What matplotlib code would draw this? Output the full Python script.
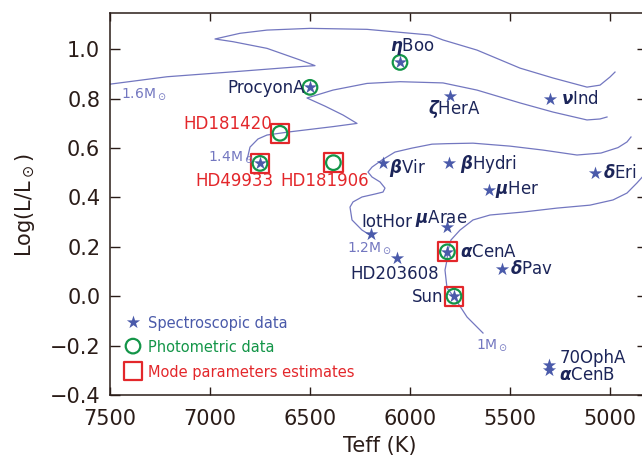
import numpy as np
import matplotlib
matplotlib.use('Agg')
import matplotlib.pyplot as plt

plt.rcParams['font.family'] = ['DejaVu Sans']
plt.rcParams['mathtext.fontset'] = 'custom'
plt.rcParams['mathtext.rm'] = 'DejaVu Sans'
plt.rcParams['mathtext.it'] = 'DejaVu Sans:italic:bold'
plt.rcParams['mathtext.bf'] = 'DejaVu Sans:bold'

# evolutionary tracks: Teff (K), log(L/Lsun)
track16_teff = [7500, 7215, 6885, 6550, 6475, 6550, 6715, 6885, 6975, 6850, 6715, 6500,
                6215, 5900, 5835, 5665, 5450, 5285, 5115, 5050, 5000, 4975]
track16_logl = [0.859, 0.889, 0.909, 0.930, 0.934, 0.957, 1.004, 1.031, 1.042, 1.065, 1.078, 1.085,
                1.081, 1.058, 1.038, 0.997, 0.924, 0.884, 0.847, 0.855, 0.888, 0.908]

track14_teff = [6815, 6800, 6760, 6715, 6600, 6385, 6265, 6335, 6425, 6515, 6385, 6215,
                6050, 5835, 5665, 5450, 5285, 5115, 5050, 5015]
track14_logl = [0.552, 0.604, 0.637, 0.653, 0.666, 0.687, 0.700, 0.734, 0.770, 0.803, 0.835, 0.862,
                0.869, 0.864, 0.835, 0.783, 0.746, 0.714, 0.718, 0.726]

track12_teff = [6200, 6240, 6290, 6300, 6285, 6240, 6175, 6135, 6125, 6150, 6190, 6210, 6190,
                6140, 6075, 5990, 5890, 5815, 5685, 5500, 5335, 5165, 5045, 4960, 4915, 4895]
track12_logl = [0.248, 0.268, 0.309, 0.361, 0.382, 0.402, 0.414, 0.422, 0.438, 0.463, 0.483, 0.503, 0.523,
                0.552, 0.584, 0.600, 0.616, 0.618, 0.620, 0.608, 0.592, 0.572, 0.580, 0.602, 0.625, 0.645]

track10_teff = [5635, 5715, 5780, 5815, 5825, 5815, 5810, 5795, 5750, 5685, 5600, 5435,
                5265, 5100, 4985, 4915, 4865, 4825]
track10_logl = [-0.149, -0.084, -0.003, 0.033, 0.106, 0.147, 0.187, 0.228, 0.268, 0.309, 0.329, 0.341,
                0.357, 0.369, 0.390, 0.418, 0.459, 0.495]

track_labels = ['1.6M$_\\odot$', '1.4M$_\\odot$', '1.2M$_\\odot$', '1M$_\\odot$']
track_label_teff = [7445, 7010, 6315, 5672]
track_label_logl = [0.806, 0.549, 0.180, -0.211]

# spectroscopic targets
spec_names = ['etaBoo', 'ProcyonA', 'HD49933', 'zetaHerA', 'nuInd', 'betaVir', 'betaHydri', 'deltaEri',
              'muHer', 'muArae', 'IotHor', 'HD203608', 'alphaCenA', 'deltaPav', 'Sun', '70OphA', 'alphaCenB']
spec_teff = [6050, 6500, 6750, 5800, 5300, 6133, 5803, 5075, 5603, 5817, 6195, 6067, 5813, 5542, 5780, 5305, 5305]
spec_logl = [0.947, 0.846, 0.538, 0.811, 0.797, 0.541, 0.541, 0.500, 0.430, 0.279, 0.252, 0.153, 0.180,
             0.110, 0.000, -0.278, -0.298]

# photometric targets
phot_names = ['etaBoo', 'ProcyonA', 'HD181420', 'HD49933', 'HD181906', 'alphaCenA', 'Sun']
phot_teff = [6050, 6500, 6650, 6750, 6383, 5813, 5780]
phot_logl = [0.947, 0.846, 0.660, 0.538, 0.541, 0.180, 0.000]

# targets with mode parameter estimates
mode_names = ['HD181420', 'HD49933', 'HD181906', 'alphaCenA', 'Sun']
mode_teff = [6650, 6750, 6383, 5813, 5780]
mode_logl = [0.660, 0.538, 0.541, 0.180, 0.000]

# name labels: text, Teff, logL, alignment
name_labels = [
    ('$\\eta$Boo', 5990, 0.994, 'center', 'navy'),
    ('ProcyonA', 6525, 0.825, 'right', 'navy'),
    ('HD181420', 7135, 0.676, 'left', 'red'),
    ('HD49933', 7075, 0.446, 'left', 'red'),
    ('HD181906', 6650, 0.446, 'left', 'red'),
    ('$\\zeta$HerA', 5908, 0.737, 'left', 'navy'),
    ('$\\nu$Ind', 5247, 0.777, 'left', 'navy'),
    ('$\\beta$Vir', 6103, 0.498, 'left', 'navy'),
    ('$\\beta$Hydri', 5750, 0.514, 'left', 'navy'),
    ('$\\delta$Eri', 5033, 0.478, 'left', 'navy'),
    ('$\\mu$Her', 5575, 0.414, 'left', 'navy'),
    ('IotHor', 6245, 0.279, 'left', 'navy'),
    ('$\\mu$Arae', 5975, 0.295, 'left', 'navy'),
    ('HD203608', 6300, 0.068, 'left', 'navy'),
    ('$\\alpha$CenA', 5750, 0.160, 'left', 'navy'),
    ('$\\delta$Pav', 5500, 0.089, 'left', 'navy'),
    ('Sun', 5833, -0.025, 'right', 'navy'),
    ('70OphA', 5253, -0.269, 'left', 'navy'),
    ('$\\alpha$CenB', 5255, -0.339, 'left', 'navy'),
]

axis_col = '#2a1c18'
track_col = '#7377c0'
star_col = '#4a5aaa'
name_col = '#1c2559'
green = '#139548'
red = '#e3272b'
colors = {'navy': name_col, 'red': red}

fig = plt.figure(figsize=(6.42, 4.57), dpi=100)
ax = fig.add_axes([110 / 642, 62 / 457, 537 / 642, 381.7 / 457])

for tt, ll in [(track16_teff, track16_logl), (track14_teff, track14_logl),
               (track12_teff, track12_logl), (track10_teff, track10_logl)]:
    ax.plot(tt, ll, color=track_col, lw=0.9, zorder=1)

for txt, t, l in zip(track_labels, track_label_teff, track_label_logl):
    ax.text(t, l, txt, color=track_col, fontsize=10, ha='left', va='baseline')

ax.scatter(mode_teff, mode_logl, marker='s', s=13.5 ** 2, facecolors='none', edgecolors=red,
           linewidths=1.6, zorder=2)
ax.scatter(spec_teff, spec_logl, marker='*', s=10 ** 2, color=star_col, linewidths=0, zorder=3)
ax.scatter(phot_teff, phot_logl, marker='o', s=10.5 ** 2, facecolors='none', edgecolors=green,
           linewidths=1.6, zorder=4)

for txt, t, l, ha, c in name_labels:
    ax.text(t, l, txt, color=colors[c], fontsize=12, ha=ha, va='baseline', zorder=5)

# legend drawn by hand
ax.scatter([7385], [-0.104], marker='*', s=10 ** 2, color=star_col, linewidths=0)
ax.scatter([7385], [-0.202], marker='o', s=10.5 ** 2, facecolors='none', edgecolors=green, linewidths=1.6)
ax.scatter([7385], [-0.303], marker='s', s=13.5 ** 2, facecolors='none', edgecolors=red, linewidths=1.6)
ax.text(7310, -0.128, 'Spectroscopic data', color=star_col, fontsize=10.5, va='baseline')
ax.text(7310, -0.225, 'Photometric data', color=green, fontsize=10.5, va='baseline')
ax.text(7310, -0.326, 'Mode parameters estimates', color=red, fontsize=10.5, va='baseline')

ax.set_xlim(7500, 4815)
ax.set_ylim(-0.4, 1.146)
ax.set_xticks([7500, 7000, 6500, 6000, 5500, 5000])
ax.set_yticks([-0.4, -0.2, 0.0, 0.2, 0.4, 0.6, 0.8, 1.0])
ax.set_yticklabels(['\u22120.4', '\u22120.2', '0.0', '0.2', '0.4', '0.6', '0.8', '1.0'])
ax.tick_params(axis='x', direction='in', top=True, length=5.5, width=1.0, pad=10,
               labelsize=15, colors=axis_col)
ax.tick_params(axis='y', direction='in', right=True, length=7, width=1.0, pad=7,
               labelsize=15, colors=axis_col)
for sp in ax.spines.values():
    sp.set_color(axis_col)
    sp.set_linewidth(1.1)

fig.text(380 / 642, 1 - 446 / 457, 'Teff (K)', fontsize=15, color=axis_col, ha='center', va='center')
fig.text(25 / 642, 1 - 205 / 457, 'Log(L/L$_\\odot$)', fontsize=15, color=axis_col,
         ha='center', va='center', rotation=90)

fig.savefig('out.png', dpi=100)
